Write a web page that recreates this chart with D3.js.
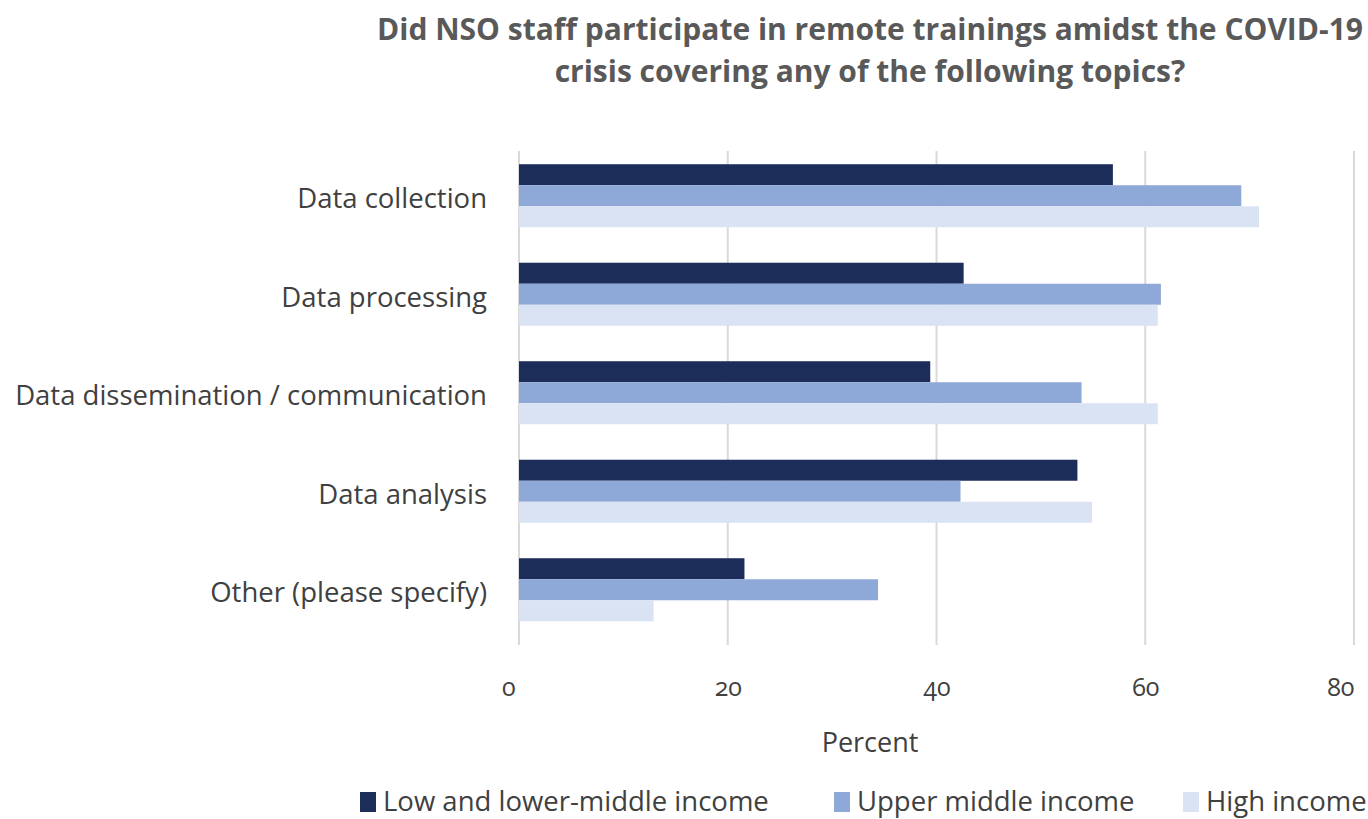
<!DOCTYPE html>
<html>
<head>
<meta charset="utf-8">
<script src="https://cdn.jsdelivr.net/npm/d3@7"></script>
<style>
  body { margin: 0; background: #fff; }
  svg text { font-family: "Open Sans", sans-serif; }
</style>
</head>
<body>
<div id="chart"></div>
<script>
const categories = ["Data collection", "Data processing", "Data dissemination / communication", "Data analysis", "Other (please specify)"];
const seriesNames = ["Low and lower-middle income", "Upper middle income", "High income"];
const lowIncome = [56.9, 42.6, 39.4, 53.5, 21.6];
const upperMiddle = [69.2, 61.5, 53.9, 42.3, 34.4];
const highIncome = [70.9, 61.2, 61.2, 54.9, 12.9];
const xTicks = [0, 20, 40, 60, 80];
const colors = ["#1c2d5a", "#8ea9d8", "#dae3f3"];

const MARGIN = {TOP: 151, LEFT: 519};
const WIDTH = 835;
const HEIGHT = 494;

const svg = d3.select("#chart").append("svg")
    .attr("width", 1368)
    .attr("height", 819);

// title
const title = svg.append("text")
    .attr("x", 870)
    .attr("text-anchor", "middle")
    .style("font-family", "'Liberation Sans Narrow', 'Open Sans', sans-serif")
    .style("font-weight", "bold")
    .style("font-size", "30px")
    .attr("fill", "#595959");
title.append("tspan").attr("x", 870).attr("y", 40).text("Did NSO staff participate in remote trainings amidst the COVID-19");
title.append("tspan").attr("x", 870).attr("y", 82).text("crisis covering any of the following topics?");

const g = svg.append("g").attr("transform", `translate(${MARGIN.LEFT},${MARGIN.TOP})`);

const x = d3.scaleLinear().domain([0, 80]).range([0, WIDTH]);
// bars sit a little above the grid's centre, as in the original
const y = d3.scaleBand().domain(categories).range([-4.5, HEIGHT - 6]).paddingInner(0.36).paddingOuter(0.18);
const ySub = d3.scaleBand().domain(seriesNames).range([0, y.bandwidth()]);

// gridlines
g.selectAll(".grid").data(xTicks).enter().append("line")
    .attr("x1", d => x(d)).attr("x2", d => x(d))
    .attr("y1", 0).attr("y2", HEIGHT)
    .attr("stroke", "#d9d9d9")
    .attr("stroke-width", 2);

// x axis
const xAxisGroup = g.append("g")
    .attr("transform", `translate(0,${HEIGHT})`)
    .call(d3.axisBottom(x).tickValues(xTicks).tickSize(0).tickPadding(33));
xAxisGroup.select(".domain").remove();
xAxisGroup.selectAll("text")
    .style("font-size", "25px")
    .style("font-variant-numeric", "oldstyle-nums")
    .attr("fill", "#404040");
// end labels pulled inside
xAxisGroup.selectAll(".tick text")
    .filter(d => d === 0 || d === 80)
    .attr("text-anchor", "end")
    .attr("dx", d => d === 0 ? -4 : 0);

// y axis labels
const yAxisGroup = g.append("g")
    .call(d3.axisLeft(y).tickSize(0).tickPadding(32));
yAxisGroup.select(".domain").remove();
yAxisGroup.selectAll("text")
    .attr("dy", "0.45em")
    .style("font-size", "27.5px")
    .attr("fill", "#404040");

// bars
const rows = categories.map((c, i) => ({
    name: c,
    values: [lowIncome[i], upperMiddle[i], highIncome[i]]
}));

const groups = g.selectAll(".cat").data(rows).enter().append("g")
    .attr("transform", d => `translate(0,${y(d.name)})`);

groups.selectAll("rect")
    .data(d => d.values.map((v, j) => ({series: seriesNames[j], value: v, idx: j})))
    .enter().append("rect")
    .attr("x", 0)
    .attr("y", d => ySub(d.series))
    .attr("width", d => x(d.value))
    .attr("height", ySub.bandwidth())
    .style("fill", d => colors[d.idx]);

// x label
svg.append("text")
    .attr("x", 870)
    .attr("y", 752)
    .attr("text-anchor", "middle")
    .style("font-size", "27px")
    .attr("fill", "#404040")
    .text("Percent");

// legend
const legendX = [360, 834, 1183];
const legend = svg.selectAll(".legend").data(seriesNames).enter().append("g")
    .attr("transform", (d, i) => `translate(${legendX[i]},792)`);
legend.append("rect")
    .attr("width", 16).attr("height", 20)
    .style("fill", (d, i) => colors[i]);
legend.append("text")
    .attr("x", 23)
    .attr("y", 19)
    .style("font-size", "27.5px")
    .attr("fill", "#404040")
    .text(d => d);
</script>
</body>
</html>
